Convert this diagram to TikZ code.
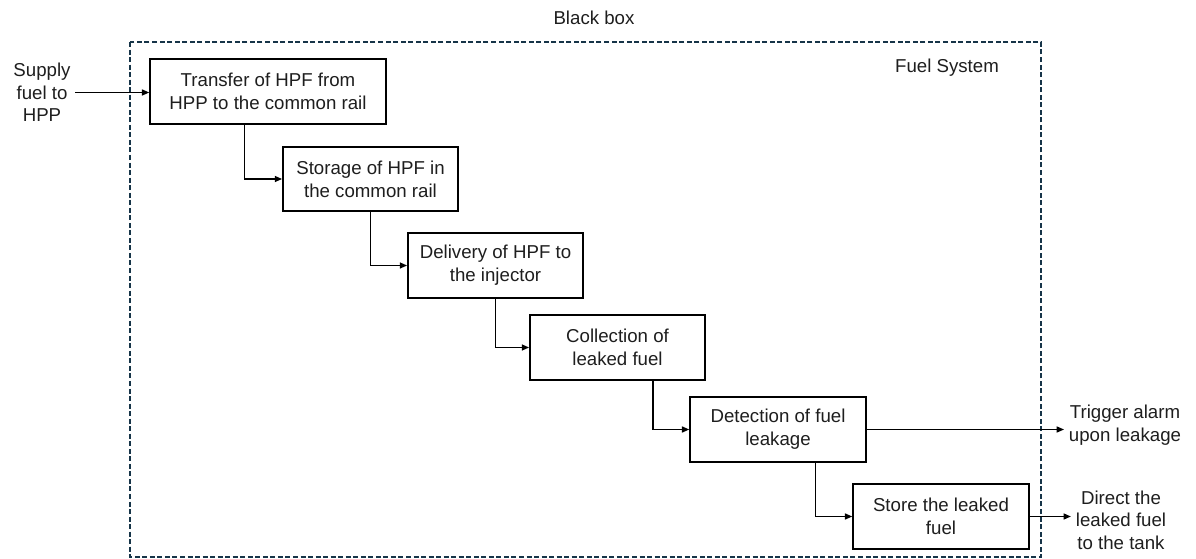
\documentclass[tikz,border=0pt]{standalone}
\usepackage{fontspec}
\setmainfont{Liberation Sans}
\usetikzlibrary{arrows.meta,calc}

\definecolor{boxline}{RGB}{22,52,72}
\definecolor{txtcol}{RGB}{30,30,30}

\tikzset{every picture/.style={line width=0.75pt}}
\tikzset{
  procbox/.style={draw=black,line width=1.1pt,fill=white,align=center,
    minimum width=131.5pt,minimum height=48.75pt,text=txtcol,
    font=\fontsize{14}{17}\selectfont},
  freetext/.style={align=center,text=txtcol,font=\fontsize{14}{17}\selectfont},
  flow/.style={line width=1.1pt,-{Triangle[length=5.5pt,width=4.5pt]}}
}

\begin{document}
\begin{tikzpicture}[x=0.75pt,y=0.75pt,yscale=-1,xscale=1]
\useasboundingbox (0,0) rectangle (1196,559);

%Shape: Rectangle (black box)
\draw [color=boxline, line width=1.1pt, dash pattern=on 3.75pt off 1.9pt] (130,42) rectangle (1041,557);

% Text Node
\node [freetext] (bbox) at (594,18) {Black box};
% Text Node
\node [freetext] (fsys) at (947,68) {Fuel System};

%Shape: Rectangle
\node [procbox, minimum width=177pt] (trans) at (268,91.5) {Transfer of HPF from\\HPP to the common rail};
%Shape: Rectangle
\node [procbox, minimum height=48pt] (store) at (370.5,179) {Storage of HPF in\\the common rail};
%Shape: Rectangle
\node [procbox] (deliv) at (495.5,265.5) {Delivery of HPF to\\the injector};
%Shape: Rectangle
\node [procbox] (collect) at (617.5,347.5) {Collection of\\leaked fuel};
%Shape: Rectangle
\node [procbox, minimum width=132pt] (detect) at (778,429.5) {Detection of fuel\\leakage};
%Shape: Rectangle
\node [procbox, minimum width=132pt] (keep) at (941,516.5) {Store the leaked\\fuel};

% Text Node
\node [freetext] (supply) at (42,92.5) {Supply\\fuel to\\HPP};
% Text Node
\node [freetext] (alarm) at (1125,425) {Trigger alarm\\upon leakage};
% Text Node
\node [freetext] (tank) at (1121,520) {Direct the\\leaked fuel\\to the tank};

%Straight Lines
\draw [flow] (supply.east) -- (supply.east -| trans.west);
\draw [flow] ($(trans.south west)!0.4!(trans.south east)$) |- (store.west);
\draw [flow] (store.south) |- (deliv.west);
\draw [flow] (deliv.south) |- (collect.west);
\draw [flow] ($(collect.south west)!0.7!(collect.south east)$) |- (detect.west);
\draw [flow] ($(detect.south west)!0.71!(detect.south east)$) |- (keep.west);
\draw [flow] (detect.east) -- (detect.east -| alarm.west);
\draw [flow] (keep.east) -- (keep.east -| tank.west);

\end{tikzpicture}
\end{document}
